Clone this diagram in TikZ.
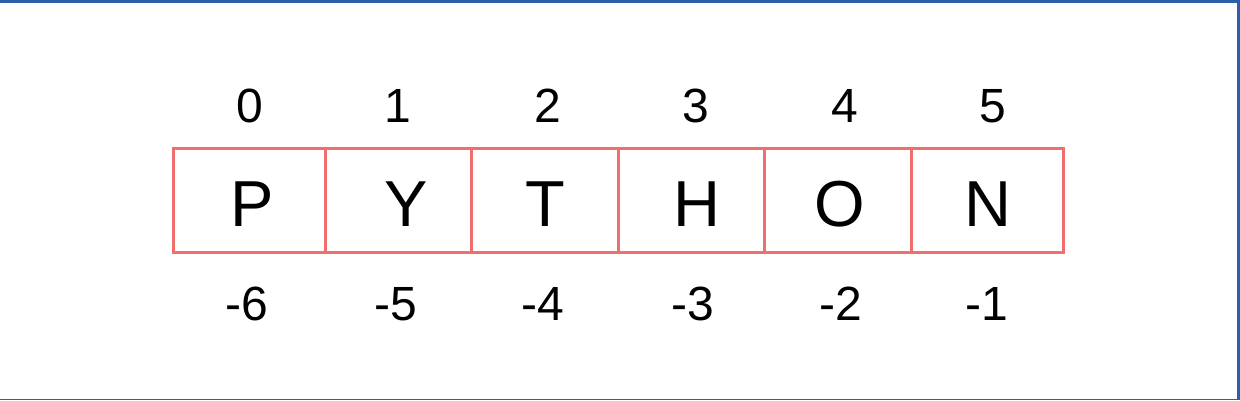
\documentclass[tikz,border=0pt]{standalone}
\usepackage{fontspec}
\setmainfont{Liberation Sans}
\usepackage{tikz}
\definecolor{cellred}{RGB}{240,110,110}
\definecolor{frameblue}{RGB}{44,94,170}
\tikzset{
  cell/.style={draw=cellred, line width=3pt, minimum height=104.5pt, inner sep=0pt},
  letter/.style={anchor=base, inner sep=0pt, font=\fontsize{65}{65}\selectfont},
  index/.style={anchor=base, inner sep=0pt, font=\fontsize{48}{48}\selectfont}
}

\begin{document}
\begin{tikzpicture}[x=1pt, y=-1pt]

  \useasboundingbox (0,0) rectangle (1240,400);

  % Frame of the window
  \fill[frameblue] (0,0) rectangle (1240,3);
  \fill[frameblue] (1237,0) rectangle (1240,400);
  \fill[frameblue] (0,399) rectangle (1240,400);

  % The six cells of the string
  \node[cell, minimum width=152pt] (cellP) at (249,200.25) {};
  \node[cell, minimum width=146pt] (cellY) at (398,200.25) {};
  \node[cell, minimum width=147pt] (cellT) at (544.5,200.25) {};
  \node[cell, minimum width=146pt] (cellH) at (691,200.25) {};
  \node[cell, minimum width=147pt] (cellO) at (837.5,200.25) {};
  \node[cell, minimum width=152pt] (cellN) at (987,200.25) {};

  % Letters
  \node[letter] (chP) at (252,226) {P};
  \node[letter] (chY) at (406,226) {Y};
  \node[letter] (chT) at (545.5,226) {T};
  \node[letter] (chH) at (696.5,226) {H};
  \node[letter] (chO) at (840,226) {O};
  \node[letter] (chN) at (987.5,226) {N};

  % Positive indices
  \node[index] (pos0) at (249.5,122) {0};
  \node[index] (pos1) at (398,122) {1};
  \node[index] (pos2) at (547.5,122) {2};
  \node[index] (pos3) at (695.5,122) {3};
  \node[index] (pos4) at (845,122) {4};
  \node[index] (pos5) at (993,122) {5};

  % Negative indices
  \node[index] (neg6) at (246.5,320) {-6};
  \node[index] (neg5) at (395.5,320) {-5};
  \node[index] (neg4) at (542.5,320) {-4};
  \node[index] (neg3) at (692.5,320) {-3};
  \node[index] (neg2) at (840.5,320) {-2};
  \node[index] (neg1) at (986.5,320) {-1};

\end{tikzpicture}
\end{document}
